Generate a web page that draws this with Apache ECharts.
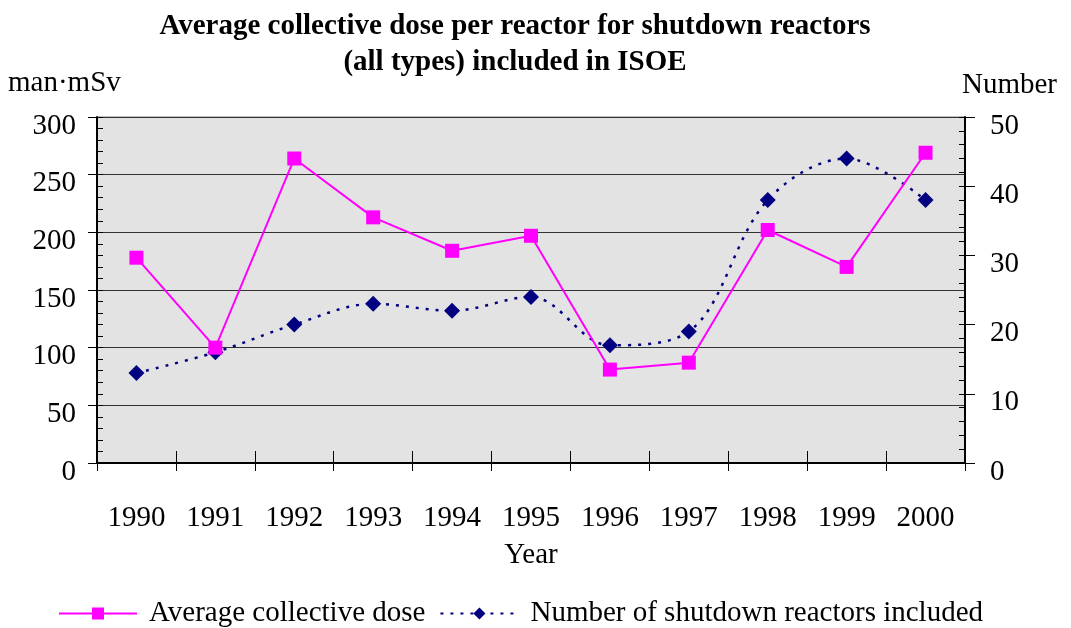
<!DOCTYPE html>
<html><head><meta charset="utf-8">
<script src="https://cdn.jsdelivr.net/npm/echarts@6/dist/echarts.min.js"></script>
<style>html,body{margin:0;padding:0;background:#fff}#c{width:1071px;height:628px}</style>
</head><body><div id="c"></div>
<script>
var years = ['1990','1991','1992','1993','1994','1995','1996','1997','1998','1999','2000'];
var avgDose = [178, 100, 264, 213, 184, 197, 81, 87, 202, 170, 269];
var reactorCount = [13, 16, 20, 23, 22, 24, 17, 19, 38, 44, 38];
var leftTicks = [0, 300, 50];
var rightTicks = [0, 50, 10];

var F = 'Liberation Serif, Times New Roman, serif';
var chart = echarts.init(document.getElementById('c'));
chart.setOption({
  animation: false,
  backgroundColor: '#fff',
  textStyle: {fontFamily: F, color: '#000'},
  title: [
    {text: 'Average collective dose per reactor for shutdown reactors\n(all types) included in ISOE', left: 510, top: 4, textAlign: 'center',
     textStyle: {fontFamily: F, fontWeight: 'bold', fontSize: 29, lineHeight: 36, color: '#000'}},
  ],
  graphic: [
    {type: 'text', left: 8, top: 69, style: {text: 'man·mSv', font: '29px ' + F, fill: '#000'}},
    {type: 'text', left: 962, top: 71, style: {text: 'Number', font: '29px ' + F, fill: '#000'}}
  ],
  legend: {
    left: 53, top: 594, itemWidth: 78, itemHeight: 15, itemGap: 14,
    textStyle: {fontFamily: F, fontSize: 29, color: '#000', padding: [0, 0, 0, 7]},
    data: ['Average collective dose', 'Number of shutdown reactors included']
  },
  grid: {left: 97, right: 106, top: 117, bottom: 165, show: true, backgroundColor: '#e3e3e3', borderColor: '#808080', borderWidth: 1},
  xAxis: [
    {type: 'category', data: years, boundaryGap: true,
     name: 'Year', nameLocation: 'middle', nameGap: 78, nameTextStyle: {fontFamily: F, fontSize: 29, color: '#000'},
     axisLine: {lineStyle: {color: '#000', width: 2}},
     axisTick: {show: true, length: 8, alignWithLabel: false, lineStyle: {color: '#000', width: 1}},
     axisLabel: {margin: 41, fontFamily: F, fontSize: 29, color: '#000'}},
    {type: 'category', data: years, boundaryGap: true, position: 'bottom',
     axisLine: {show: false}, axisLabel: {show: false},
     axisTick: {show: true, inside: true, length: 12, lineStyle: {color: '#000', width: 1}}}
  ],
  yAxis: [
    {type: 'value', min: leftTicks[0], max: leftTicks[1], interval: leftTicks[2], position: 'left',
     axisLine: {show: true, lineStyle: {color: '#000', width: 2}},
     axisTick: {show: true, length: 9, lineStyle: {color: '#000'}},
     axisLabel: {margin: 21, fontFamily: F, fontSize: 29, color: '#000', verticalAlign: 'top', lineHeight: 18},
     splitLine: {show: true, lineStyle: {color: '#333', width: 1}}},
    {type: 'value', min: rightTicks[0], max: rightTicks[1], interval: rightTicks[2], position: 'right',
     axisLine: {show: true, lineStyle: {color: '#000', width: 2}},
     axisTick: {show: true, length: 10, lineStyle: {color: '#000'}},
     axisLabel: {margin: 25, fontFamily: F, fontSize: 29, color: '#000', verticalAlign: 'top', lineHeight: 18},
     splitLine: {show: false}},
    {type: 'value', min: 0, max: 300, interval: 10, position: 'left',
     axisLine: {show: false}, axisLabel: {show: false}, splitLine: {show: false},
     axisTick: {show: true, inside: true, length: 6, lineStyle: {color: '#000'}}},
    {type: 'value', min: 0, max: 50, interval: 2, position: 'right',
     axisLine: {show: false}, axisLabel: {show: false}, splitLine: {show: false},
     axisTick: {show: true, inside: true, length: 6, lineStyle: {color: '#000'}}}
  ],
  series: [
    {name: 'Average collective dose', type: 'line', yAxisIndex: 0, data: avgDose,
     symbol: 'rect', symbolSize: 14, color: '#ff00ff',
     lineStyle: {color: '#ff00ff', width: 2}, itemStyle: {color: '#ff00ff'}, z: 3},
    {name: 'Number of shutdown reactors included', type: 'line', yAxisIndex: 1, data: reactorCount,
     symbol: 'diamond', symbolSize: 16, smooth: 0.35, color: '#000080',
     lineStyle: {color: '#000080', width: 2.5, type: [3, 7]}, itemStyle: {color: '#000080'}, z: 2}
  ]
});
</script></body></html>
